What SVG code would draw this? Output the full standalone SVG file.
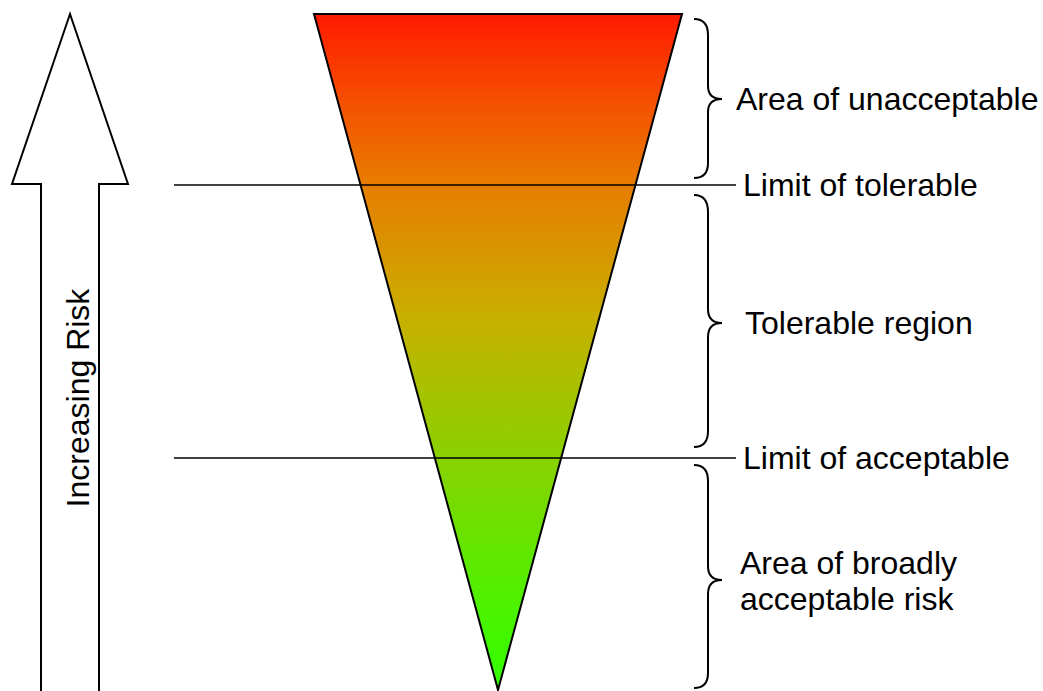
<svg xmlns="http://www.w3.org/2000/svg" width="1043" height="691" viewBox="0 0 1043 691">
<style>
.t{font-family:"Liberation Sans",Arial,sans-serif;font-size:32px;fill:#000}
.br{fill:none;stroke:#000;stroke-width:2}
.ln{stroke:#000;stroke-width:1.6}
</style>
<defs>
<linearGradient id="g" x1="0" y1="14" x2="0" y2="690" gradientUnits="userSpaceOnUse">
<stop offset="0" stop-color="#ff1a00"/>
<stop offset="0.13" stop-color="#f55000"/>
<stop offset="0.25" stop-color="#e87c00"/>
<stop offset="0.45" stop-color="#c8b000"/>
<stop offset="0.66" stop-color="#88d200"/>
<stop offset="0.86" stop-color="#50f000"/>
<stop offset="1" stop-color="#30ff00"/>
</linearGradient>
</defs>
<rect width="1043" height="691" fill="#fff"/>
<g id="arrow">
<polygon points="70,14 128,184 99,184 99,700 41,700 41,184 12,184" fill="#fff" stroke="#000" stroke-width="2"/>
<text class="t" transform="translate(89,398) rotate(-90)" text-anchor="middle">Increasing Risk</text>
</g>
<g id="triangle">
<polygon points="314,14 682,14 498,690" fill="url(#g)" stroke="#000" stroke-width="2" stroke-linejoin="miter"/>
</g>
<g id="connectors">
<line class="ln" x1="174" y1="185" x2="736" y2="185"/>
<line class="ln" x1="174" y1="458" x2="736" y2="458"/>
</g>
<g id="unacceptable">
<path class="br" d="M694,19 Q708,19 708,35 L708,86 Q708,99 722,99 Q708,99 708,112 L708,163 Q708,178 694,178"/>
<text class="t" x="736" y="110">Area of unacceptable</text>
</g>
<g id="limit-tolerable">
<text class="t" x="743" y="196">Limit of tolerable</text>
</g>
<g id="tolerable">
<path class="br" d="M694,195 Q708,195 708,212 L708,309 Q708,323 722,323 Q708,323 708,337 L708,431 Q708,447 694,447"/>
<text class="t" x="745" y="334">Tolerable region</text>
</g>
<g id="limit-acceptable">
<text class="t" x="743" y="469">Limit of acceptable</text>
</g>
<g id="broadly">
<path class="br" d="M694,465 Q708,465 708,481 L708,566 Q708,580 722,580 Q708,580 708,594 L708,673 Q708,688 694,688"/>
<text class="t" x="740" y="574">Area of broadly</text>
<text class="t" x="740" y="610">acceptable risk</text>
</g>
</svg>
